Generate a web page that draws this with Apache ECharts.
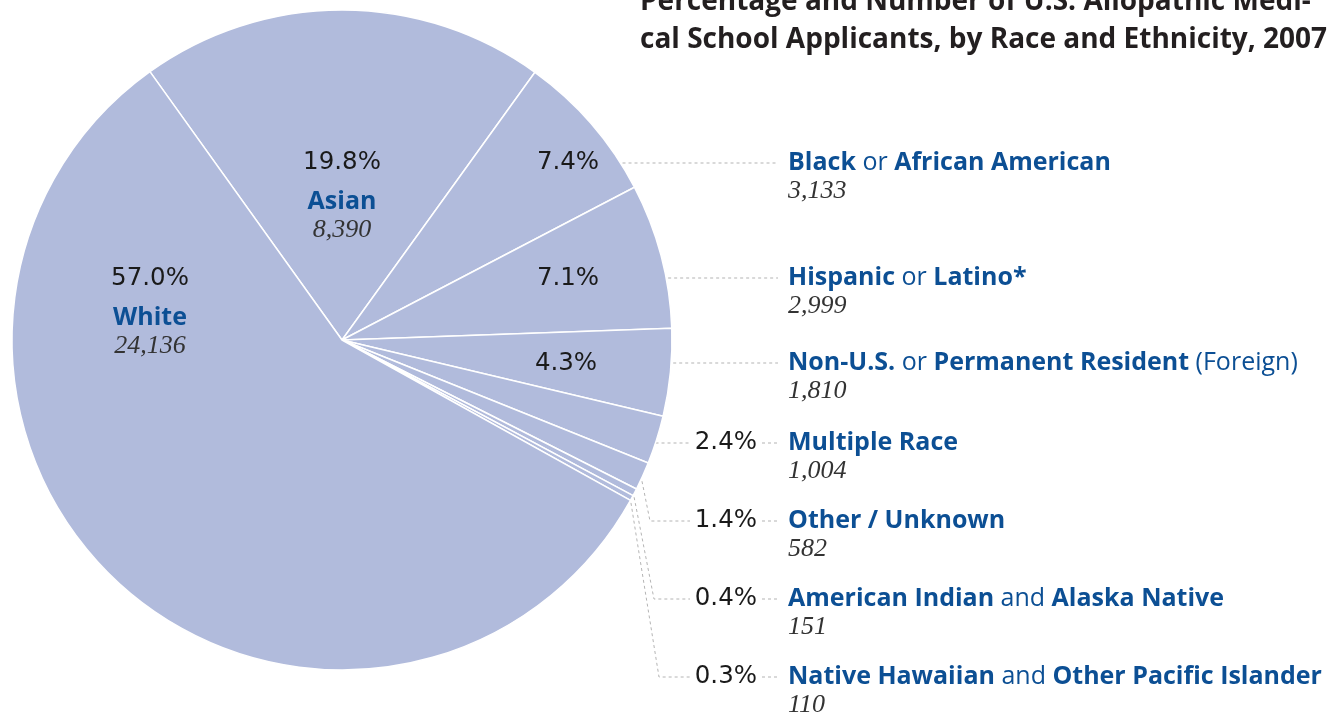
<!DOCTYPE html>
<html lang="en">

<head>
  <meta charset="UTF-8">
  <title>Applicants by Race and Ethnicity</title>
  <style>
    html, body { margin: 0; padding: 0; background: #fff; }
  </style>
</head>

<body>
  <div id="main" style="width: 1330px;height:715px;"></div>

  <script src="https://cdn.jsdelivr.net/npm/echarts@6/dist/echarts.min.js"></script>
  <script>
    // data, in slice order (clockwise from the White / Asian border)
    let categories = ['Asian', 'Black| or |African American', 'Hispanic| or |Latino*',
      'Non-U.S.| or |Permanent Resident| (Foreign)', 'Multiple Race', 'Other / Unknown',
      'American Indian| and |Alaska Native', 'Native Hawaiian| and |Other Pacific Islander', 'White'
    ];
    let applicants = [8390, 3133, 2999, 1810, 1004, 582, 151, 110, 24136];
    let percentLabels = ['19.8%', '7.4%', '7.1%', '4.3%', '2.4%', '1.4%', '0.4%', '0.3%', '57.0%'];

    // layout
    let cfg = {
      cx: 342,
      cy: 340,
      r: 330,
      startAngle: 125.6,
      blue: '#0c4f94',
      ink: '#1a1a1a',
      fill: '#b1bbdc',
      dash: '#b4b4b4',
      sans: '"Open Sans", "Noto Sans", sans-serif',
      pct: '"DejaVu Sans", sans-serif',
      serif: '"Liberation Serif", "DejaVu Serif", serif',
      nameX: 788,
      rowY: [0, 163, 278, 363, 443, 521, 599, 677, 0],
      pctX: 757,
      bendX: [0, 0, 0, 0, 0, 650, 654, 659, 0]
    };
    // where the big blocks and inside percents sit
    let insideAt = {
      0: [342, 191],
      1: [568, 163],
      2: [568, 279],
      3: [566, 364],
      8: [150, 307]
    };

    let total = applicants.reduce((a, b) => a + b, 0);
    let midAngles = [];
    let acc = 0;
    applicants.forEach((v) => {
      midAngles.push((cfg.startAngle - 360 * (acc + v / 2) / total) * Math.PI / 180);
      acc += v;
    });

    function plainName(s) {
      return s.split('|').join('');
    }

    function richName(s) {
      return s.split('|').map((part, i) => `{${i % 2 === 0 ? 'b' : 'r'}|${part}}`).join('');
    }

    function edgeAtY(y) {
      let dy = y - cfg.cy;
      return cfg.cx + Math.sqrt(cfg.r * cfg.r - dy * dy);
    }

    function edgeAtMid(i) {
      let a = midAngles[i];
      return [cfg.cx + (cfg.r - 2) * Math.cos(a), cfg.cy - (cfg.r - 2) * Math.sin(a)];
    }

    let dashLine = {
      color: cfg.dash,
      width: 1,
      type: [3, 3]
    };

    let pieData = applicants.map((v, i) => ({
      name: plainName(categories[i]),
      value: v,
      labelLine: {
        show: i >= 4 && i <= 7
      }
    }));

    let overlayData = applicants.map((v, i) => ({
      name: plainName(categories[i]),
      value: v,
      label: {
        show: i >= 1 && i <= 7
      },
      labelLine: {
        show: i >= 1 && i <= 7
      }
    }));

    let richStyles = {
      p: {
        fontFamily: cfg.pct,
        fontSize: 24.5,
        color: cfg.ink,
        lineHeight: 50
      },
      pp: {
        fontFamily: cfg.pct,
        fontSize: 24.5,
        color: cfg.ink,
        lineHeight: 30
      },
      b: {
        fontFamily: cfg.sans,
        fontSize: 25,
        fontWeight: 'bold',
        color: cfg.blue,
        lineHeight: 28
      },
      r: {
        fontFamily: cfg.sans,
        fontSize: 25,
        color: cfg.blue,
        lineHeight: 28
      },
      n: {
        fontFamily: cfg.serif,
        fontSize: 26,
        fontStyle: 'italic',
        color: '#333',
        lineHeight: 28
      }
    };

    let chart = echarts.init(document.getElementById('main'));
    let option = {
      animation: false,
      title: {
        text: 'Percentage and Number of U.S. Allopathic Medi-\ncal School Applicants, by Race and Ethnicity, 2007',
        left: 635,
        top: -22,
        textStyle: {
          fontFamily: cfg.sans,
          fontSize: 28,
          fontWeight: 'bold',
          color: '#231f20',
          lineHeight: 38
        }
      },
      series: [{
        type: 'pie',
        center: [cfg.cx, cfg.cy],
        radius: cfg.r,
        startAngle: cfg.startAngle,
        clockwise: true,
        avoidLabelOverlap: false,
        silent: true,
        emphasis: {
          disabled: true
        },
        itemStyle: {
          color: cfg.fill,
          borderColor: '#fff',
          borderWidth: 1.5
        },
        label: {
          position: 'outside',
          formatter: (p) => {
            let i = p.dataIndex;
            if (i === 0 || i === 8) {
              return `{p|${percentLabels[i]}}\n${richName(categories[i])}\n{n|${applicants[i].toLocaleString('en-US')}}`;
            }
            return `{pp|${percentLabels[i]}}`;
          },
          rich: richStyles
        },
        labelLine: {
          lineStyle: dashLine
        },
        labelLayout: (params) => {
          let i = params.dataIndex;
          if (insideAt[i]) {
            return {
              x: insideAt[i][0],
              y: insideAt[i][1],
              align: 'center',
              verticalAlign: 'middle'
            };
          }
          let y = cfg.rowY[i];
          let points;
          if (i === 4) {
            points = [[edgeAtY(y), y], [690, y]];
          } else {
            points = [edgeAtMid(i), [cfg.bendX[i], y], [690, y]];
          }
          return {
            x: cfg.pctX,
            y: y,
            align: 'right',
            verticalAlign: 'middle',
            labelLinePoints: points
          };
        },
        data: pieData
      }, {
        // same slices, invisible, carrying the name / count labels
        type: 'pie',
        center: [cfg.cx, cfg.cy],
        radius: cfg.r,
        startAngle: cfg.startAngle,
        clockwise: true,
        avoidLabelOverlap: false,
        silent: true,
        emphasis: {
          disabled: true
        },
        itemStyle: {
          color: 'rgba(0,0,0,0)',
          borderWidth: 0
        },
        label: {
          position: 'outside',
          formatter: (p) => {
            let i = p.dataIndex;
            return `${richName(categories[i])}\n{n|${applicants[i].toLocaleString('en-US')}}`;
          },
          rich: richStyles
        },
        labelLine: {
          lineStyle: dashLine
        },
        labelLayout: (params) => {
          let i = params.dataIndex;
          let y = cfg.rowY[i];
          let points = (i <= 3) ? [[edgeAtY(y) + 2, y], [778, y]] : [[762, y], [780, y]];
          return {
            x: cfg.nameX,
            y: y - 14,
            align: 'left',
            verticalAlign: 'top',
            labelLinePoints: points
          };
        },
        data: overlayData
      }]
    };
    chart.setOption(option);
  </script>
</body>

</html>
